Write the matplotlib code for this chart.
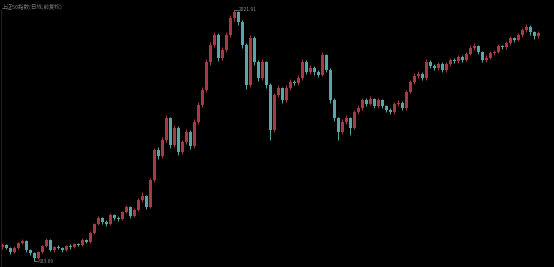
#!/usr/bin/env python3
"""
Candlestick chart on a black background, drawn with matplotlib.
"""
import numpy as np
import matplotlib.pyplot as plt

plt.rcParams['font.family'] = ['Noto Sans CJK SC', 'DejaVu Sans']

TITLE = '上证50指数(日线,前复权)'
PEAK_LABEL = '2021.91'
LOW_LABEL = '933.69'

closes = [1003, 990, 973, 990, 1012, 1020, 981, 968, 947, 973,
          999, 1025, 981, 994, 990, 981, 999, 994, 1007, 1003,
          1025, 1016, 1055, 1094, 1120, 1103, 1094, 1133, 1120, 1116,
          1146, 1168, 1129, 1155, 1198, 1215, 1168, 1285, 1415, 1389,
          1458, 1553, 1436, 1510, 1406, 1449, 1493, 1432, 1536, 1610,
          1675, 1796, 1870, 1913, 1814, 1848, 1913, 1987, 2013, 1970,
          1870, 1697, 1900, 1796, 1727, 1796, 1697, 1501, 1653, 1684,
          1631, 1684, 1710, 1705, 1727, 1796, 1753, 1770, 1753, 1740,
          1827, 1762, 1631, 1553, 1493, 1536, 1553, 1510, 1579, 1597,
          1631, 1614, 1636, 1605, 1631, 1605, 1588, 1579, 1614, 1620,
          1597, 1666, 1710, 1736, 1744, 1727, 1796, 1779, 1770, 1788,
          1762, 1788, 1805, 1800, 1818, 1805, 1831, 1857, 1866, 1840,
          1805, 1814, 1835, 1840, 1866, 1860, 1879, 1900, 1892, 1913,
          1935, 1948, 1926, 1909, 1922]

opens = [995] + closes[:-1]

highs = [1010, 1008, 994, 997, 1018, 1030, 1024, 986, 972, 978,
         1005, 1032, 1030, 1000, 1002, 995, 1005, 1006, 1014, 1013,
         1032, 1030, 1062, 1100, 1128, 1126, 1110, 1140, 1138, 1127,
         1152, 1176, 1172, 1162, 1206, 1232, 1220, 1295, 1425, 1430,
         1470, 1565, 1560, 1522, 1518, 1460, 1505, 1500, 1548, 1622,
         1688, 1808, 1885, 1925, 1920, 1862, 1925, 1998, 2021.91, 2018,
         1978, 1880, 1912, 1908, 1805, 1810, 1802, 1705, 1662, 1695,
         1690, 1695, 1722, 1720, 1738, 1808, 1805, 1782, 1780, 1762,
         1840, 1832, 1770, 1640, 1560, 1548, 1565, 1560, 1590, 1610,
         1642, 1640, 1648, 1642, 1642, 1638, 1612, 1595, 1625, 1630,
         1626, 1676, 1720, 1748, 1756, 1752, 1808, 1805, 1788, 1798,
         1795, 1797, 1815, 1812, 1828, 1825, 1840, 1868, 1880, 1872,
         1846, 1825, 1845, 1850, 1876, 1872, 1888, 1910, 1906, 1922,
         1945, 1960, 1955, 1932, 1930]

lows = [988, 984, 966, 968, 985, 1006, 975, 962, 933.69, 941,
        968, 994, 976, 975, 984, 975, 977, 988, 990, 997,
        999, 1010, 1012, 1050, 1088, 1096, 1086, 1090, 1112, 1108,
        1110, 1140, 1122, 1124, 1150, 1190, 1160, 1162, 1278, 1375,
        1380, 1450, 1425, 1428, 1395, 1398, 1440, 1420, 1425, 1528,
        1600, 1665, 1785, 1860, 1800, 1805, 1838, 1905, 1975, 1955,
        1858, 1680, 1690, 1785, 1715, 1720, 1685, 1458, 1495, 1645,
        1620, 1625, 1675, 1695, 1698, 1720, 1745, 1745, 1742, 1730,
        1735, 1752, 1620, 1540, 1458, 1485, 1528, 1480, 1505, 1570,
        1590, 1605, 1608, 1596, 1598, 1596, 1578, 1570, 1572, 1606,
        1588, 1590, 1660, 1702, 1728, 1718, 1720, 1770, 1760, 1762,
        1752, 1755, 1780, 1792, 1794, 1798, 1800, 1825, 1850, 1830,
        1795, 1798, 1808, 1828, 1834, 1852, 1854, 1872, 1884, 1886,
        1906, 1928, 1915, 1898, 1900]

UP_COLOR = '#a53b45'
DOWN_COLOR = '#5aa6a6'
TEXT_COLOR = '#8c8c8c'


def main():
    o = np.array(opens, dtype=float)
    c = np.array(closes, dtype=float)
    h = np.array(highs, dtype=float)
    l = np.array(lows, dtype=float)
    x = np.arange(len(c))
    up = c >= o
    colors = np.where(up, UP_COLOR, DOWN_COLOR)

    fig = plt.figure(figsize=(5.54, 2.67), dpi=100, facecolor='black')
    ax = fig.add_axes([0, 0, 1, 1])
    ax.set_facecolor('black')

    # wicks then bodies
    ax.vlines(x, l, h, colors=colors, linewidth=0.7)
    bottoms = np.minimum(o, c)
    heights = np.maximum(np.abs(c - o), 1.5)
    ax.bar(x, heights, bottom=bottoms, width=0.75, color=colors,
           edgecolor='none')

    ax.set_xlim(-0.5, 138)
    ax.set_ylim(908, 2065)
    for s in ax.spines.values():
        s.set_visible(False)
    ax.set_xticks([])
    ax.set_yticks([])

    # faint left axis line
    ax.axvline(-0.25, ymin=0.0, ymax=0.965, color='#262626', linewidth=0.6)

    ax.text(0.004, 0.985, TITLE, transform=ax.transAxes, fontsize=4,
            color='#7a7a7a', va='top', ha='left')

    # peak and low markers
    ip = int(np.argmax(h))
    ax.plot([ip, ip + 1.0], [h[ip], h[ip]], color=TEXT_COLOR, linewidth=0.5)
    ax.text(ip + 1.2, h[ip], PEAK_LABEL, fontsize=3.6, color=TEXT_COLOR,
            va='center', ha='left')
    il = int(np.argmin(l))
    ax.plot([il, il + 1.0], [l[il], l[il]], color=TEXT_COLOR, linewidth=0.5)
    ax.text(il + 1.2, l[il], LOW_LABEL, fontsize=3.6, color=TEXT_COLOR,
            va='center', ha='left')

    fig.savefig('out.png', dpi=100, facecolor='black')


if __name__ == '__main__':
    main()
